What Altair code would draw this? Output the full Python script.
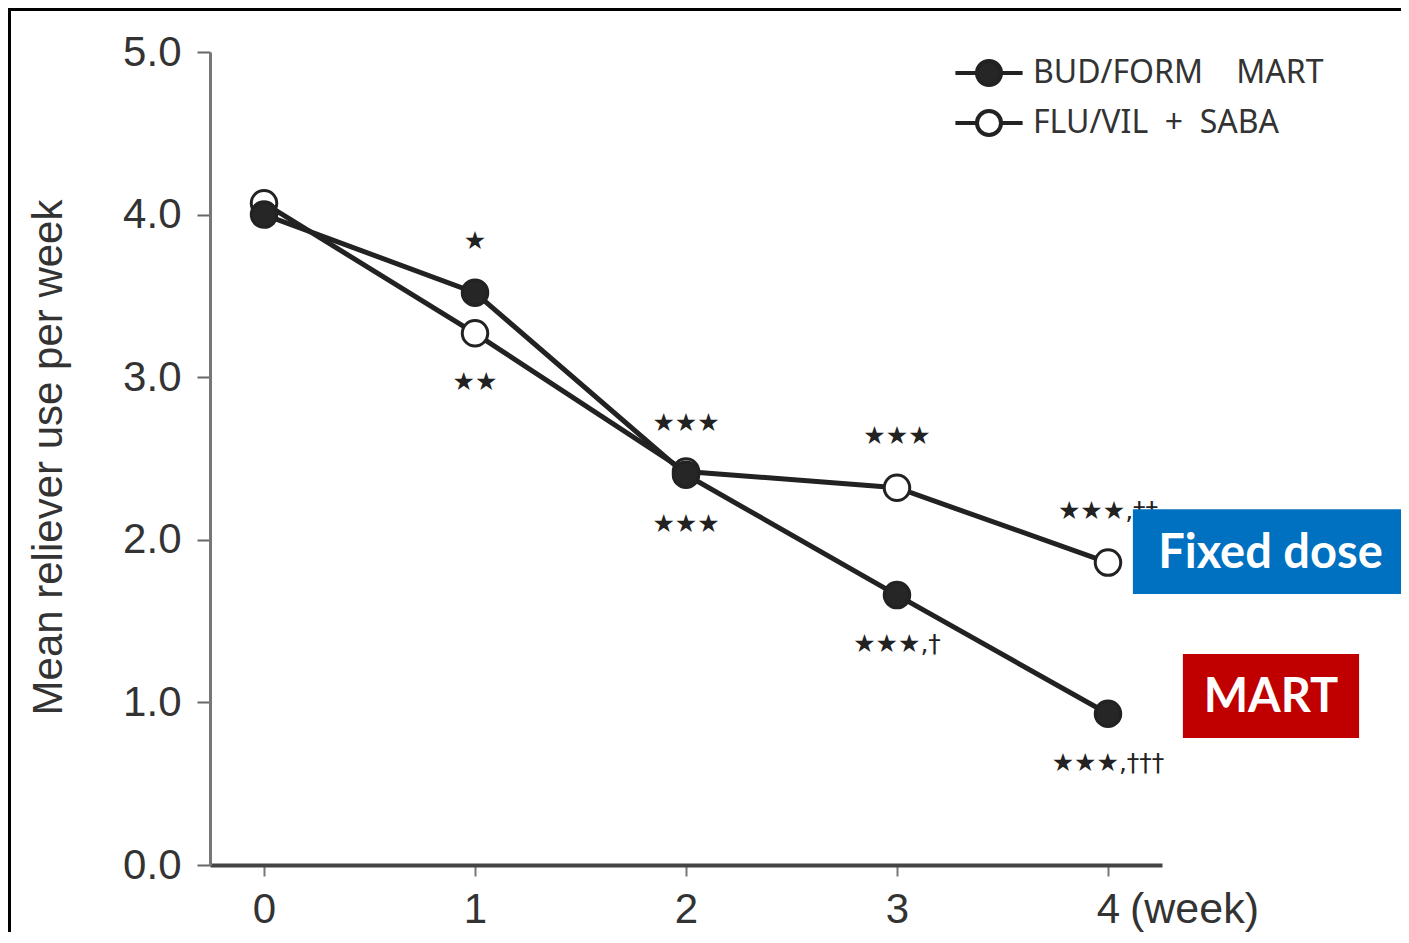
import altair as alt
import pandas as pd

# ---------------- data ----------------
weeks = [0, 1, 2, 3, 4]
mart_values = [4.00, 3.52, 2.40, 1.66, 0.93]      # BUD/FORM MART (filled)
fixed_values = [4.07, 3.27, 2.42, 2.32, 1.86]     # FLU/VIL + SABA (open)
series_names = ["BUD/FORM\u00a0\u00a0\u00a0\u00a0MART", "FLU/VIL\u00a0\u00a0+\u00a0\u00a0SABA"]

ann_week = [1, 1, 2, 2, 3, 3, 4, 4]
ann_series = [0, 1, 0, 0, 1, 0, 1, 0]
ann_side = ["above", "below", "above", "below", "above", "below", "above", "below"]
ann_text = ["★", "★★", "★★★", "★★★", "★★★", "★★★,†", "★★★,††", "★★★,†††"]

callout_text = ["Fixed dose", "MART"]
callout_color = ["#0070C0", "#C00000"]
callout_x1 = [4.118, 4.355]
callout_x2 = [5.422, 5.190]
callout_y1 = [1.666, 0.781]
callout_y2 = [2.188, 1.298]

x_ticks = [0, 1, 2, 3, 4]
y_ticks = [0, 1, 2, 3, 4, 5]
x_unit_label = "(week)"
y_title = "Mean reliever use per week"

# ---------------- tables ----------------
series_values = [mart_values, fixed_values]
rows = []
for s, vals in enumerate(series_values):
    for w, v in zip(weeks, vals):
        rows.append({"week": w, "value": v, "group": series_names[s], "order": s})
df = pd.DataFrame(rows)

ann = pd.DataFrame({
    "week": ann_week,
    "value": [series_values[s][weeks.index(w)] for w, s in zip(ann_week, ann_series)],
    "side": ann_side,
    "text": ann_text,
})

callouts = pd.DataFrame({
    "text": callout_text, "color": callout_color,
    "x1": callout_x1, "x2": callout_x2, "y1": callout_y1, "y2": callout_y2,
})
callouts["xm"] = (callouts["x1"] + callouts["x2"]) / 2
callouts["ym"] = (callouts["y1"] + callouts["y2"]) / 2

# ---------------- scales / axes ----------------
xscale = alt.Scale(domain=[-0.256, 4.256], nice=False, zero=False)
yscale = alt.Scale(domain=[0, 5], nice=False)

xaxis = alt.Axis(values=x_ticks, format="d", title=None, grid=False,
                 labelFont="Liberation Sans", labelFontSize=42, labelColor="#333333",
                 tickSize=11, tickWidth=2, tickColor="#777777",
                 domainColor="#444444", domainWidth=4, labelPadding=13)
yaxis = alt.Axis(values=y_ticks, format=".1f", title=y_title, grid=False,
                 labelFont="Liberation Sans", labelFontSize=42, labelColor="#333333",
                 tickSize=13, tickWidth=2, tickColor="#666666",
                 domainColor="#777777", domainWidth=3, labelPadding=16,
                 titleFont="Liberation Sans", titleFontSize=42, titleFontWeight="normal",
                 titleColor="#333333", titleX=-162, titleY=405, titleAngle=270,
                 titleAlign="center", titleBaseline="middle")

X = alt.X("week:Q", scale=xscale, axis=xaxis)
Y = alt.Y("value:Q", scale=yscale, axis=yaxis)

legend_path = "M-2.8,0H-1M1,0H2.8M-1,0A1,1,0,1,1,1,0A1,1,0,1,1,-1,0Z"

lines = alt.Chart(df).mark_line(color="#222222", strokeWidth=5).encode(
    x=X, y=Y, detail="group:N")

points = alt.Chart(df).mark_point(shape="circle", filled=True, size=650, opacity=1,
                                  stroke="#222222", strokeWidth=3).encode(
    x=X, y=Y,
    fill=alt.Fill("group:N",
                  scale=alt.Scale(domain=series_names, range=["#262626", "#ffffff"]),
                  legend=alt.Legend(orient="none", legendX=763, legendY=5, title=None,
                                    symbolType=legend_path, symbolSize=576,
                                    symbolStrokeColor="#222222", symbolStrokeWidth=4,
                                    symbolOpacity=1, labelFont="Noto Sans",
                                    labelFontSize=32, labelColor="#333333",
                                    labelOffset=28, rowPadding=10, padding=0,
                                    labelLimit=600)),
    order=alt.Order("order:Q", sort="descending"),
)

above = alt.Chart(ann).transform_filter("datum.side == 'above'").mark_text(
    font="DejaVu Sans", fontSize=25, color="#222222", dy=-52, baseline="middle",
    align="center").encode(x=X, y=Y, text="text:N")
below = alt.Chart(ann).transform_filter("datum.side == 'below'").mark_text(
    font="DejaVu Sans", fontSize=25, color="#222222", dy=49, baseline="middle",
    align="center").encode(x=X, y=Y, text="text:N")

unit_label = alt.Chart(pd.DataFrame({"week": [x_ticks[-1]], "value": [0], "text": [x_unit_label]})).mark_text(
    font="Liberation Sans", fontSize=43, color="#333333", align="left", baseline="top",
    dx=22, dy=24).encode(x=X, y=Y, text="text:N")

boxes = alt.Chart(callouts).mark_rect().encode(
    x=alt.X("x1:Q", scale=xscale, axis=xaxis), x2="x2:Q",
    y=alt.Y("y1:Q", scale=yscale, axis=yaxis), y2="y2:Q",
    color=alt.Color("color:N", scale=None))
box_text = alt.Chart(callouts).mark_text(
    font="Lato", fontWeight="bold", fontSize=47, color="white",
    align="center", baseline="middle", dy=2).encode(
    x=alt.X("xm:Q", scale=xscale, axis=xaxis),
    y=alt.Y("ym:Q", scale=yscale, axis=yaxis), text="text:N")

frame_src = pd.DataFrame({"k": [0]})
frame_top = alt.Chart(frame_src).mark_rule(color="black", strokeWidth=3).encode(
    x=alt.value(-202), x2=alt.value(1191), y=alt.value(-42.5))
frame_left = alt.Chart(frame_src).mark_rule(color="black", strokeWidth=3).encode(
    x=alt.value(-200.5), y=alt.value(-44), y2=alt.value(880))

chart = alt.layer(
    frame_top, frame_left, lines, points, above, below, unit_label, boxes, box_text
).properties(
    width=952, height=813,
    autosize=alt.AutoSizeParams(type="none"),
    padding={"left": 202, "top": 44, "right": 239, "bottom": 70},
).configure_view(stroke="transparent")

chart.save("out.html", embed_options={"renderer": "svg", "actions": False})
